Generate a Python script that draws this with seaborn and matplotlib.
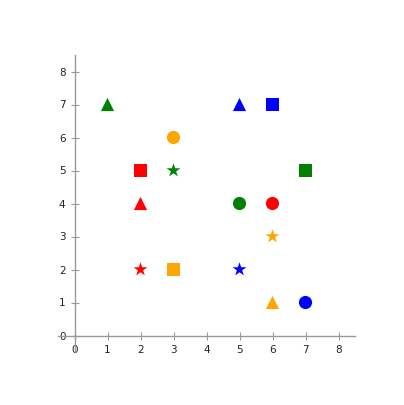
import matplotlib
matplotlib.use("Agg")
import matplotlib.pyplot as plt
import pandas as pd
import seaborn as sns

# data
x_vals = [1, 5, 6, 3, 2, 3, 7, 2, 5, 6, 6, 2, 3, 5, 6, 7]
y_vals = [7, 7, 7, 6, 5, 5, 5, 4, 4, 4, 3, 2, 2, 2, 1, 1]
colors = ["green", "blue", "blue", "orange", "red", "green", "green", "red",
          "green", "red", "orange", "red", "orange", "blue", "orange", "blue"]
shapes = ["triangle", "triangle", "square", "circle", "square", "star", "square", "triangle",
          "circle", "circle", "star", "star", "square", "star", "triangle", "circle"]
ticks = [0, 1, 2, 3, 4, 5, 6, 7, 8]

df = pd.DataFrame({"x": x_vals, "y": y_vals, "color": colors, "shape": shapes})

sns.set_style("white")
fig = plt.figure(figsize=(4.04, 4.05), dpi=100)
ax = fig.add_axes([58 / 404, 1 - 352 / 405, 297 / 404, 297 / 405])

palette = {c: c for c in ["red", "green", "blue", "orange"]}
markers = {"circle": "o", "square": "s", "triangle": "^", "star": "*"}
sizes = {"circle": 90, "square": 90, "triangle": 90, "star": 110}

for shape, grp in df.groupby("shape"):
    sns.scatterplot(data=grp, x="x", y="y", hue="color", palette=palette,
                    marker=markers[shape], s=sizes[shape], linewidth=0,
                    legend=False, ax=ax)

ax.set_xlim(-0.5, 8.5)
ax.set_ylim(-0.5, 8.5)
ax.set_xticks(ticks)
ax.set_yticks(ticks)
ax.set_xlabel("")
ax.set_ylabel("")

for side in ["top", "right"]:
    ax.spines[side].set_visible(False)
ax.spines["left"].set_position(("data", 0))
ax.spines["bottom"].set_position(("data", 0))
for side in ["left", "bottom"]:
    ax.spines[side].set_color("#999999")
    ax.spines[side].set_linewidth(1.0)

ax.tick_params(axis="both", direction="inout", length=6, width=0.8,
               color="#999999", labelsize=7.5, labelcolor="#222222",
               bottom=True, left=True)

fig.savefig("out.png", dpi=100)
